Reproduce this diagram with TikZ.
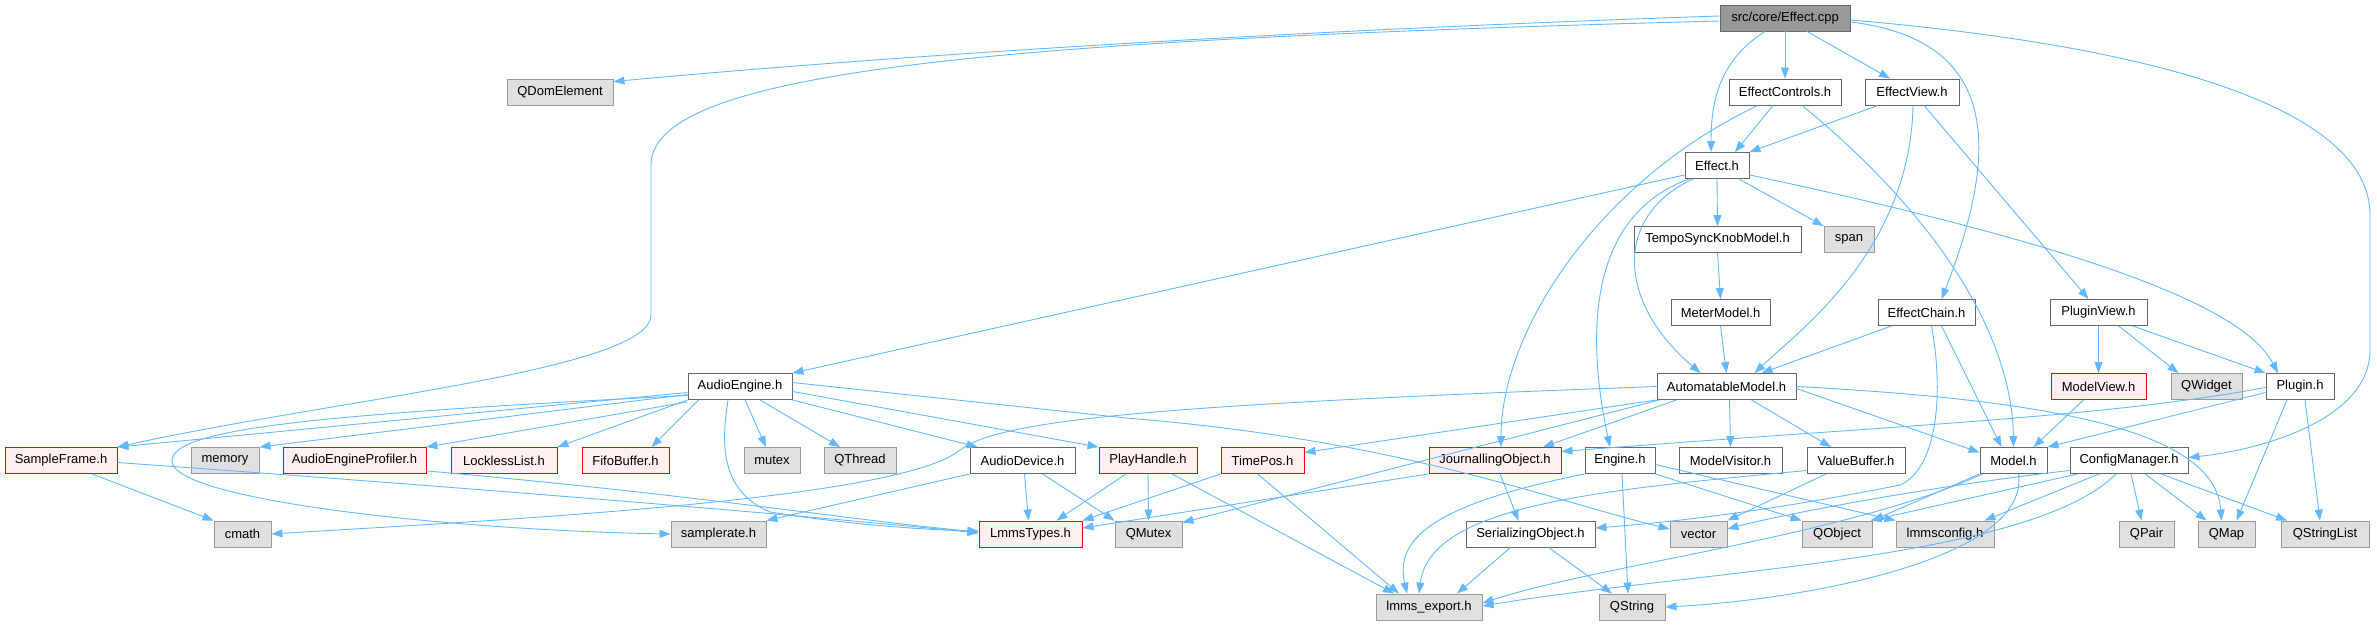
\documentclass[tikz,border=0pt]{standalone}
\usepackage{fontspec}
\setmainfont{Liberation Sans}
\usetikzlibrary{arrows.meta}
\definecolor{edgeblue}{HTML}{63B8FF}
\definecolor{bordergray}{HTML}{666666}
\definecolor{lightborder}{HTML}{999999}
\definecolor{boxgray}{HTML}{E0E0E0}
\definecolor{pinkfill}{HTML}{FFF0F0}
\definecolor{mainfill}{HTML}{999999}
\definecolor{redborder}{HTML}{FF0000}
\tikzset{
  basebox/.style={draw, rectangle, minimum height=26pt, inner sep=0pt, line width=0.9pt, font=\fontsize{13}{15}\selectfont},
  wnode/.style={basebox, draw=bordergray, fill=white},
  rnode/.style={basebox, draw=redborder, fill=pinkfill},
  gnode/.style={basebox, draw=lightborder, fill=boxgray},
  mainnode/.style={basebox, draw=bordergray, fill=mainfill},
  edge/.style={draw=edgeblue, line width=0.9pt, -{Triangle[length=11pt,width=8pt]}}
}
\begin{document}
\begin{tikzpicture}[x=1pt,y=-1pt]
\useasboundingbox (0,0) rectangle (2377,626);
% row 0-3
\node[mainnode, minimum width=130pt] (cpp) at (1785,18) {src/core/Effect.cpp};
\node[gnode, minimum width=106pt] (qdom) at (560,92) {QDomElement};
\node[wnode, minimum width=112pt] (ectrl) at (1785,92) {EffectControls.h};
\node[wnode, minimum width=94pt] (eview) at (1912,92) {EffectView.h};
\node[wnode, minimum width=64pt] (effh) at (1717,165.5) {Effect.h};
\node[wnode, minimum width=167pt] (tsk) at (1717.5,239.5) {TempoSyncKnobModel.h};
\node[gnode, minimum width=50pt] (span) at (1849,239.5) {span};
\node[wnode, minimum width=99pt] (meter) at (1720.5,312.5) {MeterModel.h};
\node[wnode, minimum width=97pt] (echain) at (1926.5,312.5) {EffectChain.h};
\node[wnode, minimum width=97pt] (pview) at (2098.5,312.5) {PluginView.h};
% row 5
\node[wnode, minimum width=104pt] (aeng) at (740,386.5) {AudioEngine.h};
\node[wnode, minimum width=139pt] (amodel) at (1726.5,386.5) {AutomatableModel.h};
\node[rnode, minimum width=95pt] (mview) at (2098.5,386.5) {ModelView.h};
\node[gnode, minimum width=71pt] (qwidget) at (2206.5,386.5) {QWidget};
\node[wnode, minimum width=68pt] (plugin) at (2300,386.5) {Plugin.h};
% row 6
\node[rnode, minimum width=112pt] (sframe) at (61,460.5) {SampleFrame.h};
\node[gnode, minimum width=68pt] (memory) at (225,460.5) {memory};
\node[rnode, minimum width=143pt] (aeprof) at (354.5,460.5) {AudioEngineProfiler.h};
\node[rnode, minimum width=106pt] (lockless) at (504,460.5) {LocklessList.h};
\node[rnode, minimum width=87pt] (fifo) at (625.5,460.5) {FifoBuffer.h};
\node[gnode, minimum width=56pt] (mutex) at (772,460.5) {mutex};
\node[gnode, minimum width=72pt] (qthread) at (860,460.5) {QThread};
\node[wnode, minimum width=105pt] (adev) at (1022.5,460.5) {AudioDevice.h};
\node[rnode, minimum width=98pt] (phandle) at (1148,460.5) {PlayHandle.h};
\node[rnode, minimum width=83pt] (timepos) at (1262.5,460.5) {TimePos.h};
\node[rnode, minimum width=132pt] (jobj) at (1495,460.5) {JournallingObject.h};
\node[wnode, minimum width=70pt] (engine) at (1620,460.5) {Engine.h};
\node[wnode, minimum width=103pt] (mvisit) at (1730.5,460.5) {ModelVisitor.h};
\node[wnode, minimum width=98pt] (vbuf) at (1856,460.5) {ValueBuffer.h};
\node[wnode, minimum width=67pt] (model) at (2013.5,460.5) {Model.h};
\node[wnode, minimum width=118pt] (cfg) at (2129,460.5) {ConfigManager.h};
% row 7
\node[gnode, minimum width=57pt] (cmath) at (242.5,534) {cmath};
\node[gnode, minimum width=95pt] (srate) at (718.5,534) {samplerate.h};
\node[rnode, minimum width=103pt] (ltypes) at (1030.5,534) {LmmsTypes.h};
\node[gnode, minimum width=67pt] (qmutex) at (1148.5,534) {QMutex};
\node[wnode, minimum width=129pt] (sobj) at (1530.5,534) {SerializingObject.h};
\node[gnode, minimum width=57pt] (vector) at (1698.5,534) {vector};
\node[gnode, minimum width=70pt] (qobject) at (1837,534) {QObject};
\node[gnode, minimum width=98pt] (lconfig) at (1945,534) {lmmsconfig.h};
\node[gnode, minimum width=55pt] (qpair) at (2146.5,534) {QPair};
\node[gnode, minimum width=57pt] (qmap) at (2226.5,534) {QMap};
\node[gnode, minimum width=88pt] (qslist) at (2325,534) {QStringList};
% row 8
\node[gnode, minimum width=106pt] (lexport) at (1429,607) {lmms\_export.h};
\node[gnode, minimum width=66pt] (qstring) at (1632,607) {QString};

% ---- edges from Effect.cpp
\draw[edge] ([yshift=2pt]cpp.west) .. controls (1300,30) and (900,55) .. ([yshift=-3pt]qdom.north east);
\draw[edge] ([yshift=-3pt]cpp.west) .. controls (1000,40) and (651,70) .. (651,165) -- (651,315) .. controls (651,370) and (330,400) .. (sframe.north east);
\draw[edge] ([xshift=-20pt]cpp.south) .. controls (1720,60) and (1711,100) .. ([xshift=-6pt]effh.north);
\draw[edge] (cpp.south) -- (ectrl.north);
\draw[edge] ([xshift=22pt]cpp.south) -- ([xshift=-22pt]eview.north);
\draw[edge] ([yshift=-4pt]cpp.east) .. controls (2000,40) and (2000,150) .. ([xshift=15pt]echain.north);
\draw[edge] ([yshift=-2pt]cpp.east) .. controls (2200,50) and (2370,120) .. (2370,215) -- (2370,350) .. controls (2370,420) and (2260,450) .. ([yshift=3pt]cfg.east);
% ---- EffectControls.h
\draw[edge] ([xshift=-12pt]ectrl.south) -- ([xshift=18pt]effh.north);
\draw[edge] ([xshift=-27pt]ectrl.south) .. controls (1600,180) and (1501,330) .. ([xshift=6pt]jobj.north);
\draw[edge] ([xshift=17pt]ectrl.south) .. controls (1930,210) and (2012,330) .. (model.north);
% ---- EffectView.h
\draw[edge] ([xshift=-34pt]eview.south) -- (effh.north east);
\draw[edge] ([xshift=1pt]eview.south) .. controls (1910,250) and (1800,330) .. ([xshift=28pt]amodel.north);
\draw[edge] ([xshift=12pt]eview.south) -- ([xshift=-10pt]pview.north);
% ---- Effect.h
\draw[edge] ([yshift=4pt]effh.south west) -- (aeng.north east);
\draw[edge] (effh.south) -- (tsk.north);
\draw[edge] ([xshift=22pt]effh.south) -- (span.north west);
\draw[edge] ([yshift=4pt]effh.south east) .. controls (2150,260) and (2250,320) .. ([xshift=-22pt]plugin.north);
\draw[edge] ([xshift=-24pt]effh.south) .. controls (1615,215) and (1615,300) .. ([xshift=-26pt]amodel.north);
\draw[edge] ([xshift=-28pt]effh.south) .. controls (1590,215) and (1585,330) .. ([xshift=-10pt]engine.north);
% ---- middle chain
\draw[edge] (tsk.south) -- (meter.north);
\draw[edge] (meter.south) -- (amodel.north);
\draw[edge] ([xshift=-35pt]echain.south) -- ([xshift=35pt]amodel.north);
\draw[edge] ([xshift=15pt]echain.south) -- ([xshift=-12pt]model.north);
\draw[edge] ([xshift=5pt]echain.south) .. controls (1945,400) and (1935,470) .. (1900,485) .. controls (1800,505) and (1700,520) .. ([yshift=6pt]sobj.east);
\draw[edge] (pview.south) -- (mview.north);
\draw[edge] ([xshift=20pt]pview.south) -- ([xshift=-28pt]qwidget.north);
\draw[edge] ([xshift=34pt]pview.south) -- (plugin.north west);
\draw[edge] ([xshift=-15pt]mview.south) -- ([xshift=20pt]model.north);
% ---- Plugin.h
\draw[edge] ([yshift=-6pt]plugin.west) -- (model.north east);
\draw[edge] ([yshift=-1pt]plugin.west) .. controls (2100,418) and (1900,425) .. ([yshift=9pt]jobj.east);
\draw[edge] ([xshift=-13pt]plugin.south) -- ([xshift=10pt]qmap.north);
\draw[edge] ([xshift=5pt]plugin.south) -- ([xshift=-5pt]qslist.north);
% ---- AutomatableModel.h
\draw[edge] (amodel.west) .. controls (1150,405) and (1000,420) .. (960,450) .. controls (900,500) and (500,520) .. (cmath.east);
\draw[edge] ([xshift=3pt]amodel.south west) -- ([yshift=-2pt]qmutex.north east);
\draw[edge] (amodel.south west) -- ([yshift=8pt]timepos.east);
\draw[edge] ([xshift=-50pt]amodel.south) -- ([xshift=48pt]jobj.north);
\draw[edge] ([xshift=3pt]amodel.south) -- (mvisit.north);
\draw[edge] ([xshift=25pt]amodel.south) -- ([xshift=-25pt]vbuf.north);
\draw[edge] ([yshift=-2pt]amodel.east) -- ([yshift=8pt]model.west);
\draw[edge] (amodel.east) .. controls (2050,400) and (2215,430) .. ([xshift=-5pt]qmap.north);
% ---- AudioEngine.h
\draw[edge] ([yshift=-6pt]aeng.west) -- (sframe.north east);
\draw[edge] ([yshift=-8pt]aeng.west) -- (memory.north east);
\draw[edge] ([yshift=-2pt]aeng.south west) -- (aeprof.north east);
\draw[edge] (aeng.south west) -- (lockless.north east);
\draw[edge] ([xshift=11pt]aeng.south west) -- ([xshift=-18pt]fifo.north east);
\draw[edge] ([yshift=-9pt]aeng.west) .. controls (300,415) and (172,430) .. (172,461) .. controls (172,500) and (450,530) .. (srate.west);
\draw[edge] ([xshift=-12pt]aeng.south) .. controls (722,440) and (718,490) .. (770,512) .. controls (850,525) and (930,530) .. ([yshift=3pt]ltypes.west);
\draw[edge] ([xshift=5pt]aeng.south) -- ([xshift=-6pt]mutex.north);
\draw[edge] ([xshift=20pt]aeng.south) -- ([xshift=-20pt]qthread.north);
\draw[edge] (aeng.south east) -- ([xshift=-45pt]adev.north);
\draw[edge] ([yshift=-5pt]aeng.east) -- (phandle.north west);
\draw[edge] ([yshift=4pt]aeng.east) -- (1126,418) .. controls (1400,440) and (1550,500) .. ([yshift=5pt]vector.west);
% ---- row 6 to row 7/8
\draw[edge] ([xshift=31pt]sframe.south) -- (cmath.north west);
\draw[edge] ([yshift=-2pt]sframe.east) .. controls (500,490) and (800,515) .. ([yshift=1pt]ltypes.west);
\draw[edge] ([yshift=3pt]aeprof.south east) .. controls (700,495) and (850,520) .. ([yshift=2pt]ltypes.west);
\draw[edge] (adev.south west) -- (srate.north east);
\draw[edge] ([xshift=2pt]adev.south) -- ([xshift=-2pt]ltypes.north);
\draw[edge] ([xshift=20pt]adev.south) -- (qmutex.north west);
\draw[edge] ([xshift=-22pt]phandle.south) -- ([xshift=26pt]ltypes.north);
\draw[edge] (phandle.south) -- (qmutex.north);
\draw[edge] ([xshift=24pt]phandle.south) -- ([xshift=-35pt]lexport.north);
\draw[edge] (timepos.south west) -- (ltypes.north east);
\draw[edge] ([xshift=-5pt]timepos.south) -- ([xshift=-30pt]lexport.north);
\draw[edge] ([xshift=5pt]jobj.south) -- ([xshift=-12pt]sobj.north);
\draw[edge] (jobj.south west) -- ([yshift=6pt]ltypes.east);
\draw[edge] (engine.south west) .. controls (1430,505) and (1395,540) .. ([xshift=-22pt]lexport.north);
\draw[edge] ([xshift=2pt]engine.south) -- ([xshift=-4pt]qstring.north);
\draw[edge] (engine.south east) -- (qobject.north west);
\draw[edge] ([yshift=-4pt]engine.east) -- (lconfig.north west);
\draw[edge] ([xshift=-20pt]sobj.south) -- ([xshift=28pt]lexport.north);
\draw[edge] ([xshift=18pt]sobj.south) -- ([xshift=-20pt]qstring.north);
\draw[edge] ([xshift=-30pt]vbuf.south) -- (vector.north east);
\draw[edge] ([yshift=-10pt]vbuf.west) .. controls (1600,490) and (1430,505) .. ([xshift=-10pt]lexport.north);
\draw[edge] (model.south west) -- (qobject.north east);
\draw[edge] ([xshift=3pt]model.south west) .. controls (1850,535) and (1600,565) .. ([yshift=4pt]lexport.east);
\draw[edge] ([xshift=5pt]model.south) .. controls (2030,560) and (1800,600) .. (qstring.east);
\draw[edge] ([yshift=-10pt]cfg.west) .. controls (1900,490) and (1760,520) .. ([yshift=5pt]vector.east);
\draw[edge] ([xshift=8pt]cfg.south west) -- ([xshift=-2pt]qobject.north east);
\draw[edge] ([xshift=-30pt]cfg.south) -- ([xshift=-10pt]lconfig.north east);
\draw[edge] ([xshift=-13pt]cfg.south) .. controls (2030,560) and (1700,570) .. ([yshift=1pt]lexport.east);
\draw[edge] ([xshift=2pt]cfg.south) -- ([xshift=-5pt]qpair.north);
\draw[edge] ([xshift=16pt]cfg.south) -- ([xshift=-20pt]qmap.north);
\draw[edge] ([xshift=32pt]cfg.south) -- ([xshift=-38pt]qslist.north);
\end{tikzpicture}
\end{document}
